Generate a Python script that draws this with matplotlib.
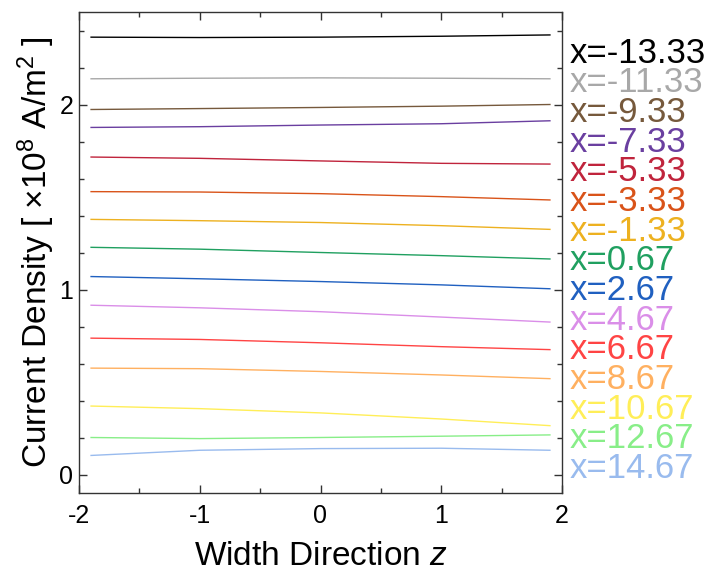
import matplotlib
matplotlib.use("Agg")
import matplotlib.pyplot as plt
from matplotlib.ticker import MultipleLocator

plt.rcParams['font.family'] = ['Liberation Sans', 'DejaVu Sans']
plt.rcParams['mathtext.fontset'] = 'custom'
plt.rcParams['mathtext.rm'] = 'Liberation Sans'
plt.rcParams['mathtext.it'] = 'Liberation Sans:italic'
plt.rcParams['axes.unicode_minus'] = False

# sample positions along the width
z = [-1.9, -1.0, 0.0, 1.0, 1.9]

labels = ["x=-13.33", "x=-11.33", "x=-9.33", "x=-7.33", "x=-5.33",
          "x=-3.33", "x=-1.33", "x=0.67", "x=2.67", "x=4.67",
          "x=6.67", "x=8.67", "x=10.67", "x=12.67", "x=14.67"]

colors = ["#000000", "#a8a8a8", "#76593c", "#6a3fa0", "#c0243c",
          "#d95319", "#edb120", "#20a060", "#2060c0", "#da8ee8",
          "#ff4444", "#ffb060", "#ffee58", "#88ee88", "#99bbee"]

# current density [x1e8 A/m^2] at each z
density = [
    [2.364, 2.362, 2.364, 2.369, 2.376],
    [2.139, 2.142, 2.144, 2.142, 2.139],
    [1.973, 1.978, 1.984, 1.991, 2.000],
    [1.876, 1.880, 1.889, 1.896, 1.912],
    [1.716, 1.709, 1.695, 1.682, 1.678],
    [1.529, 1.527, 1.518, 1.502, 1.484],
    [1.379, 1.372, 1.362, 1.345, 1.325],
    [1.228, 1.218, 1.200, 1.183, 1.165],
    [1.070, 1.058, 1.043, 1.025, 1.004],
    [0.915, 0.901, 0.880, 0.851, 0.824],
    [0.737, 0.730, 0.712, 0.691, 0.675],
    [0.575, 0.572, 0.557, 0.538, 0.518],
    [0.370, 0.356, 0.333, 0.300, 0.264],
    [0.200, 0.194, 0.200, 0.207, 0.214],
    [0.103, 0.131, 0.140, 0.142, 0.131],
]

fig = plt.figure(figsize=(7.08, 5.74), dpi=100)
ax = fig.add_axes([79 / 708, 81 / 574, 483 / 708, 481 / 574])

for vals, c in zip(density, colors):
    ax.plot(z, vals, color=c, lw=1.0)

ax.set_xlim(-2, 2)
ax.set_ylim(-0.1, 2.5)
ax.xaxis.set_major_locator(MultipleLocator(1))
ax.xaxis.set_minor_locator(MultipleLocator(0.5))
ax.yaxis.set_major_locator(MultipleLocator(1))
ax.yaxis.set_minor_locator(MultipleLocator(0.2))
ax.tick_params(which='both', direction='in', top=True, right=True,
               color='#333333', width=1.0, labelsize=18)
ax.tick_params(axis='x', pad=8)
ax.tick_params(axis='y', pad=4)
ax.tick_params(which='major', length=6)
ax.tick_params(which='minor', length=3.5)
for s in ax.spines.values():
    s.set_color('#333333')
    s.set_linewidth(1.0)

ax.set_xlabel("Width Direction $z$", fontsize=24, labelpad=9)
ax.set_ylabel("Current Density [ \u00d710$^8$ A/m$^2$ ]", fontsize=24, labelpad=2)

# coloured labels to the right of the axes
y0, step = 2.226, 0.1604
for i, (lab, c) in enumerate(zip(labels, colors)):
    ax.text(2.066, y0 - i * step, lab, color=c, fontsize=25, va='baseline',
            ha='left', clip_on=False)

fig.savefig("out.png", dpi=100)
